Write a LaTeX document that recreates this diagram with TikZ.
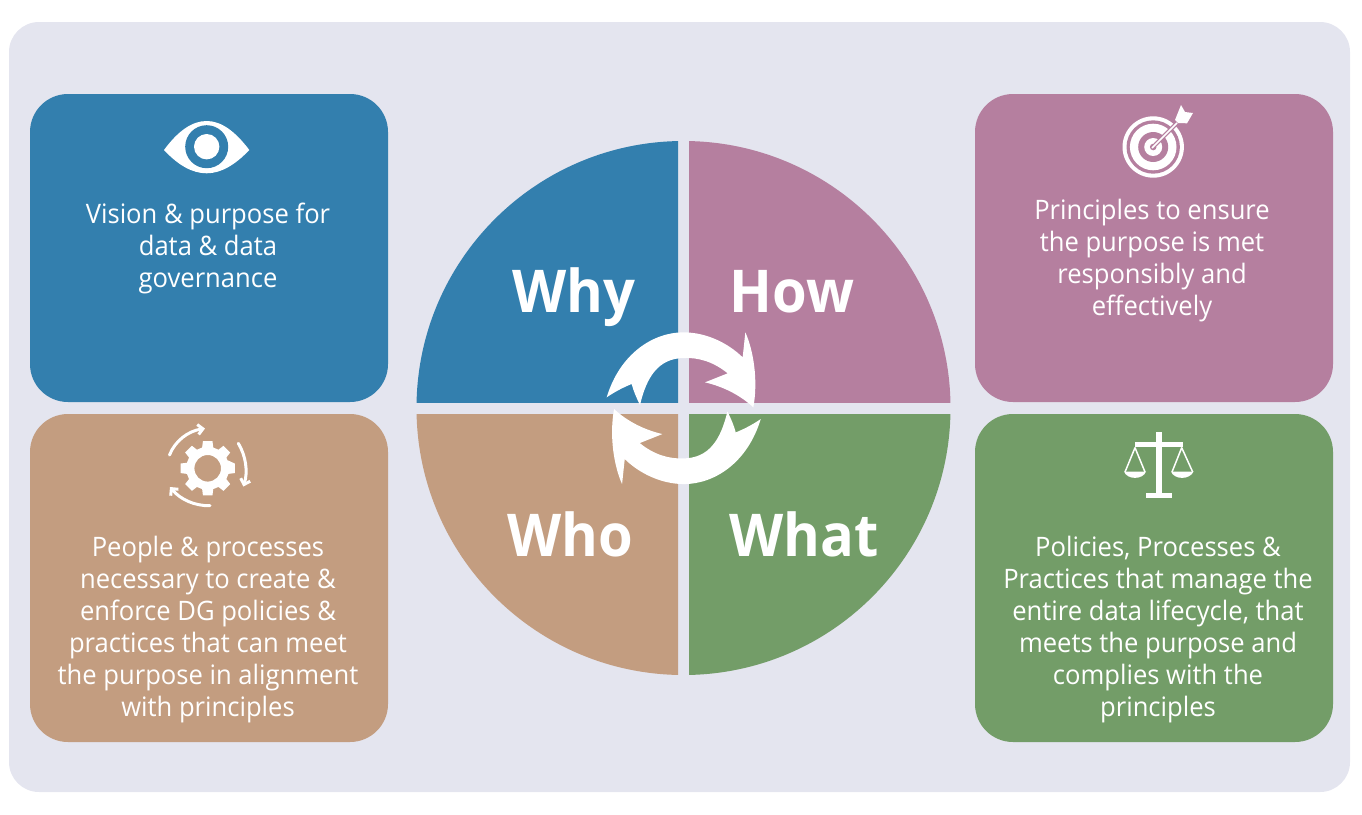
\documentclass[tikz,border=0pt]{standalone}
\usepackage{fontspec}
\setmainfont[FakeStretch=0.955]{Open Sans}
\newfontfamily\bigfont[FakeStretch=0.95]{Open Sans}
\usetikzlibrary{arrows.meta}
\definecolor{bgc}{HTML}{E4E5EF}
\definecolor{bluec}{HTML}{337FAE}
\definecolor{mauvec}{HTML}{B57F9F}
\definecolor{tanc}{HTML}{C39D80}
\definecolor{greenc}{HTML}{739D68}
\tikzset{
  cardbox/.style={fill=#1,rounded corners=38pt,draw=none},
  cardtext/.style={text=white,align=center,inner sep=0pt,font=\fontsize{26.8}{32}\selectfont},
  bigword/.style={text=white,inner sep=0pt,anchor=base,font=\bigfont\fontsize{59}{60}\selectfont\bfseries},
  iconline/.style={draw=white,line width=3pt,line cap=round},
}
\newcommand{\cyclearrow}{%
  \fill[white,x=0.33333pt,y=-0.33333pt,shift={(590pt,-320pt)}]
    (50,232) .. controls (90,100) and (190,37) .. (280,37)
    .. controls (350,37) and (415,70) .. (458,112)
    -- (466,37)
    .. controls (490,90) and (505,180) .. (490,262)
    .. controls (450,225) and (400,200) .. (345,187)
    -- (413,160)
    .. controls (370,125) and (325,112) .. (280,114)
    .. controls (205,116) and (170,170) .. (150,255)
    .. controls (140,235) and (130,212) .. (125,192)
    .. controls (100,202) and (75,215) .. (50,232) -- cycle;}
\begin{document}
\begin{tikzpicture}[x=1pt,y=-1pt]
\useasboundingbox (0,0) rectangle (1362,814);
\fill[bgc,rounded corners=30pt] (9,22) rectangle (1350,792);
% cards
\fill[cardbox=bluec] (30,94) rectangle (388,402);
\fill[cardbox=tanc] (30,414) rectangle (388,742);
\fill[cardbox=mauvec] (975,94) rectangle (1333,402);
\fill[cardbox=greenc] (975,414) rectangle (1333,742);
% quadrants
\begin{scope}\clip (400,130) rectangle (678,402);
 \fill[bluec] (683.5,408) circle[radius=267];\end{scope}
\begin{scope}\clip (689,130) rectangle (960,402);
 \fill[mauvec] (683.5,408) circle[radius=267];\end{scope}
\begin{scope}\clip (400,414) rectangle (678,690);
 \fill[tanc] (683.5,408) circle[radius=267];\end{scope}
\begin{scope}\clip (689,414) rectangle (960,690);
 \fill[greenc] (683.5,408) circle[radius=267];\end{scope}
% words
\node[bigword] (why) at (573.5,312) {Why};
\node[bigword] (how) at (792,312) {How};
\node[bigword] (who) at (570.5,556) {Who};
\node[bigword] (what) at (804,556) {What};
% centre arrows
\cyclearrow
\begin{scope}[rotate around={180:(683.7,408.2)}]\cyclearrow\end{scope}
% card texts
\node[cardtext] (t1) at (208,248) {Vision \& purpose for\\data \& data\\governance};
\node[cardtext] (t2) at (208,630) {People \& processes\\necessary to create \&\\enforce DG policies \&\\practices that can meet\\the purpose in alignment\\with principles};
\node[cardtext] (t3) at (1152,261) {Principles to ensure\\the purpose is met\\responsibly and\\effectively};
\node[cardtext] (t4) at (1158,630) {Policies, Processes \&\\Practices that manage the\\entire data lifecycle, that\\meets the purpose and\\complies with the\\principles};
% eye
\fill[white] (164,150) .. controls (178,131) and (192,121) .. (206.7,121) .. controls (221,121) and (235,131) .. (249.3,150)
  .. controls (235,165) and (221,173.3) .. (206.7,173.3) .. controls (192,173.3) and (178,165) .. (164,150) -- cycle;
\fill[bluec] (206.7,146.7) circle[radius=21.5];
\fill[white] (206.7,146.7) circle[radius=12.7];
% gear
\fill[white,even odd rule]
  ({207.7+21.5*cos(-22)},{468.3+21.5*sin(-22)})
  \foreach \a in {0,45,...,315} {
    -- ({207.7+27.5*cos(\a-10)},{468.3+27.5*sin(\a-10)}) -- ({207.7+27.5*cos(\a+10)},{468.3+27.5*sin(\a+10)})
    -- ({207.7+21.5*cos(\a+15)},{468.3+21.5*sin(\a+15)}) -- ({207.7+21.5*cos(\a+30)},{468.3+21.5*sin(\a+30)})
  } -- cycle
  (207.7,468.3) circle[radius=13.3];
\draw[iconline,-{Straight Barb[length=5pt,width=10pt]}] (169.5,455) .. controls (175,441) and (188,431) .. (205,428.5);
\draw[iconline,-{Straight Barb[length=5pt,width=10pt]}] (238.3,443.3) .. controls (246,456) and (248,472) .. (243.3,486.5);
\draw[iconline,-{Straight Barb[length=5pt,width=10pt]}] (210,505.7) .. controls (194,506) and (180,499) .. (170,487);
% target
\fill[white] (1153.2,147) circle[radius=30.7];
\fill[mauvec] (1153.2,147) circle[radius=26.7];
\fill[white] (1153.2,147) circle[radius=23.3];
\fill[mauvec] (1153.2,147) circle[radius=15];
\fill[white] (1153.2,147) circle[radius=9];
\fill[mauvec] (1153.2,147) circle[radius=3.3];
\draw[mauvec,line width=4pt] (1155,145) -- (1175,125);
\draw[white,line width=1.6pt] (1152,148) -- (1177,123);
\fill[white] (1175,120) -- (1181,105) -- (1185,112) -- (1193,113) -- (1187,123.3) -- (1178,123) -- cycle;
% scales
\fill[white] (1155.7,432.3) rectangle (1161.7,497.7);
\fill[white] (1146,493.3) rectangle (1171.7,497.7);
\fill[white] (1135,442.3) rectangle (1182.7,446.7);
\draw[white,line width=1.5pt,line join=round] (1125,472) -- (1135,447.7) -- (1145,472);
\draw[white,line width=1.5pt,line join=round] (1172,472) -- (1181.7,447.7) -- (1192.7,472);
\fill[white] (1124,471.5) .. controls (1127,480) and (1143,480) .. (1146,471.5) -- cycle;
\fill[white] (1171,471.5) .. controls (1174,480) and (1190,480) .. (1193.5,471.5) -- cycle;
\end{tikzpicture}
\end{document}
